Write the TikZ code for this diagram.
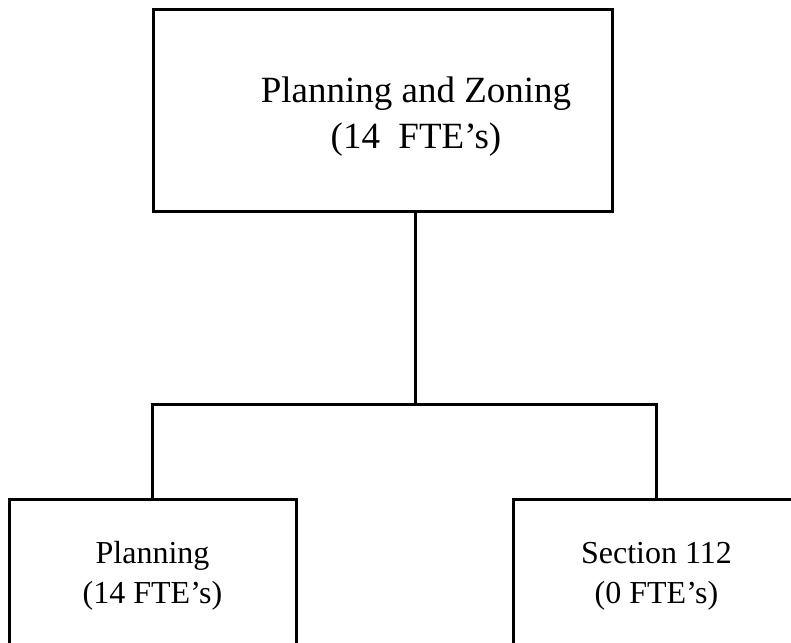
\documentclass[tikz,border=0pt]{standalone}
\usepackage{fontspec}
\setmainfont{Liberation Serif}
\usetikzlibrary{positioning}

\tikzset{
  unitbox/.style={draw, line width=3pt, rectangle, align=center, inner sep=0pt},
  wire/.style={line width=3pt}
}

\begin{document}
\begin{tikzpicture}[x=1pt, y=-1pt]
  \clip (0,0) rectangle (791,642);
  % department box, its text sits over the connector
  \coordinate (topnw) at (153,10);
  \coordinate (topse) at (612,211);
  \draw[wire] (topnw) rectangle (topse);
  \node (top) [align=center, font=\fontsize{37}{46}\selectfont] at (416,117)
    {Planning and Zoning\\(14\ \ FTE's)};
  \node (plan) [unitbox, minimum width=287pt, minimum height=154pt,
    font=\fontsize{32}{40}\selectfont] at (152.5,576) {Planning\\(14 FTE's)};
  \node (sect) [unitbox, minimum width=287pt, minimum height=154pt,
    font=\fontsize{32}{40}\selectfont] at (656.5,576) {Section 112\\(0 FTE's)};
  \coordinate (bus) at (415,404);
  \draw[wire] (topse -| bus) -- (bus);
  \draw[wire] (plan.north) |- (bus) -| (sect.north);
\end{tikzpicture}
\end{document}
